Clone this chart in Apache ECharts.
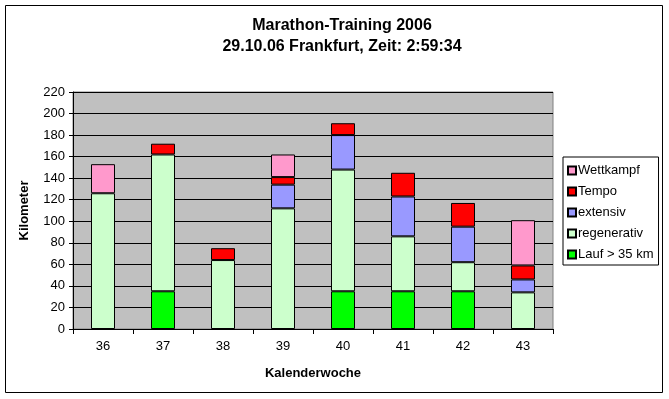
<!DOCTYPE html>
<html>
<head>
<meta charset="utf-8">
<script src="https://cdn.jsdelivr.net/npm/echarts@6/dist/echarts.min.js"></script>
<style>
  html, body { margin: 0; padding: 0; background: #fff; }
  #container { width: 669px; height: 399px; }
</style>
</head>
<body>
<div id="container"></div>
<script>
// Kalenderwochen
var weeks = ['36', '37', '38', '39', '40', '41', '42', '43'];

// Kilometer je Trainingsart
var lauf35 = [0, 35, 0, 0, 35, 35, 35, 0];
var regenerativ = [126, 127, 64, 112, 113, 51, 27, 34];
var extensiv = [0, 0, 0, 22, 32, 37, 33, 12];
var tempo = [0, 10, 11, 7, 11, 22, 22, 13];
var wettkampf = [27, 0, 0, 21, 0, 0, 0, 42];

var fontName = '"Liberation Sans", Arial, sans-serif';

function barSeries(name, data, color) {
    return {
        name: name,
        type: 'bar',
        stack: 'km',
        barWidth: '40%',
        // leere Segmente nicht zeichnen (sonst schwarzer Strich)
        data: data.map(function (v) { return v === 0 ? '-' : v; }),
        itemStyle: {
            color: color,
            borderColor: '#000',
            borderWidth: 1
        }
    };
}

var chartDom = document.getElementById('container');
var myChart = echarts.init(chartDom, null, { renderer: 'canvas' });

var option = {
    animation: false,
    backgroundColor: '#fff',
    textStyle: { fontFamily: fontName },
    title: {
        text: 'Marathon-Training 2006\n29.10.06 Frankfurt, Zeit: 2:59:34',
        left: 337,
        top: 10,
        textAlign: 'center',
        textStyle: {
            fontFamily: fontName,
            fontSize: 16,
            fontWeight: 'bold',
            color: '#000',
            lineHeight: 21
        }
    },
    graphic: [{
        type: 'rect',
        shape: { x: 5.5, y: 5.5, width: 657, height: 387 },
        style: { fill: 'none', stroke: '#000', lineWidth: 1 },
        silent: true
    }],
    legend: {
        orient: 'vertical',
        left: 563,
        top: 157,
        data: ['Wettkampf', 'Tempo', 'extensiv', 'regenerativ', 'Lauf > 35 km'],
        itemWidth: 8,
        itemHeight: 8,
        itemGap: 8,
        padding: [7, 5, 4, 4],
        borderColor: '#000',
        borderWidth: 1,
        backgroundColor: '#fff',
        textStyle: { fontFamily: fontName, fontSize: 13, color: '#000', padding: [0, 0, 0, -3] },
        icon: 'rect'
    },
    grid: {
        left: 73,
        top: 92,
        width: 480,
        height: 237,
        show: true,
        backgroundColor: '#c0c0c0',
        borderColor: '#808080',
        borderWidth: 1
    },
    xAxis: {
        type: 'category',
        data: weeks,
        name: 'Kalenderwoche',
        nameLocation: 'middle',
        nameGap: 38,
        nameTextStyle: { fontFamily: fontName, fontSize: 13, fontWeight: 'bold', color: '#000' },
        axisLine: { lineStyle: { color: '#000' } },
        axisTick: { show: true, alignWithLabel: false, length: 5, lineStyle: { color: '#000' } },
        axisLabel: { color: '#000', fontSize: 13, margin: 11 }
    },
    yAxis: {
        type: 'value',
        min: 0,
        max: 220,
        interval: 20,
        name: 'Kilometer',
        nameLocation: 'middle',
        nameGap: 42,
        nameTextStyle: { fontFamily: fontName, fontSize: 13, fontWeight: 'bold', color: '#000' },
        axisLine: { show: true, lineStyle: { color: '#000' } },
        axisTick: { show: true, length: 4, lineStyle: { color: '#000' } },
        axisLabel: { color: '#000', fontSize: 13, margin: 8 },
        splitLine: { show: true, lineStyle: { color: '#000', width: 1 } }
    },
    series: [
        barSeries('Lauf > 35 km', lauf35, '#00ff00'),
        barSeries('regenerativ', regenerativ, '#ccffcc'),
        barSeries('extensiv', extensiv, '#9999ff'),
        barSeries('Tempo', tempo, '#ff0000'),
        barSeries('Wettkampf', wettkampf, '#ff99cc')
    ]
};

if (option && typeof option === 'object') {
    myChart.setOption(option);
}
</script>
</body>
</html>
